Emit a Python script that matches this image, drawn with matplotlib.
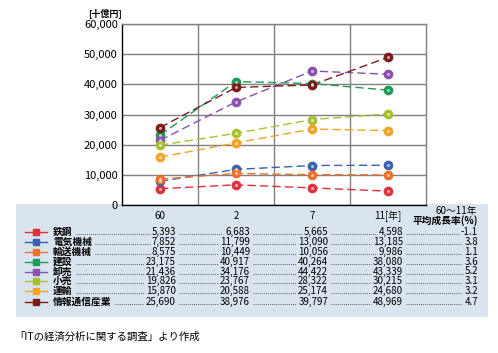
import matplotlib
matplotlib.use("Agg")
import matplotlib.pyplot as plt
from matplotlib.patches import Rectangle
from matplotlib.lines import Line2D

plt.rcParams['font.family'] = ['Noto Sans CJK JP', 'DejaVu Sans']

years = ["60", "2", "7", "11[年]"]
industries = ["鉄鋼", "電気機械", "輸送機械", "建設", "卸売", "小売", "運輸", "情報通信産業"]
steel = [5393, 6683, 5665, 4598]
electric = [7852, 11799, 13090, 13185]
transport_mach = [8575, 10449, 10056, 9986]
construction = [23175, 40917, 40264, 38080]
wholesale = [21436, 34176, 44422, 43339]
retail = [19826, 23767, 28322, 30215]
transport = [15870, 20588, 25174, 24680]
ict = [25690, 38976, 39797, 48969]
growth = ["-1.1", "3.8", "1.1", "3.6", "5.2", "3.1", "3.2", "4.7"]
series = [steel, electric, transport_mach, construction, wholesale, retail, transport, ict]
colors = ["#e0303a", "#3a62b0", "#f07028", "#1f9a5a", "#8a50b0", "#a8c030", "#f4a424", "#7a1c1c"]

W, H = 498, 353
fig = plt.figure(figsize=(W / 100, H / 100), dpi=100)
fig.patch.set_facecolor("white")

def fx(px):
    return px / W

def fy(py):
    return 1 - py / H

# blue panel
fig.patches.append(Rectangle((fx(16), fy(317)), fx(488) - fx(16), fy(204) - fy(317),
                             transform=fig.transFigure, facecolor="#dae4ef", edgecolor="none", zorder=0))

ax = fig.add_axes([fx(122), fy(205), fx(426) - fx(122), fy(24) - fy(205)])
ax.set_facecolor("white")
ax.set_zorder(2)
x = list(range(len(years)))
for vals, c in zip(series, colors):
    ax.plot(x, vals, color=c, lw=1.0, ls=(0, (6, 3)), zorder=3)
    ax.plot(x, vals, ls="none", marker="o", ms=6.2, mfc=c, mec=c, mew=0.8, zorder=4)
    ax.plot(x, vals, ls="none", marker="o", ms=2.2, mfc="white", mec="none", alpha=0.6, zorder=5)
ax.set_xlim(-0.5, 3.5)
ax.set_ylim(0, 60000)
ax.set_yticks(range(0, 60001, 10000))
ax.set_yticklabels([f"{v:,}" for v in range(0, 60001, 10000)], fontsize=8)
ax.set_xticks(x)
ax.set_xticklabels(years, fontsize=7)
ax.set_xticks([0.5, 1.5, 2.5], minor=True)
ax.tick_params(axis="both", which="both", length=0, pad=3)
ax.tick_params(axis="x", pad=4)
ax.grid(axis="y", which="major", color="#808080", lw=1)
ax.grid(axis="x", which="minor", color="#808080", lw=1)
ax.set_axisbelow(True)
for s in ax.spines.values():
    s.set_color("#808080")
    s.set_linewidth(1)
ax.spines["left"].set_color("black")
ax.spines["bottom"].set_color("black")

fig.text(fx(88), fy(14), "[十億円]", fontsize=6.5, va="center", ha="left", weight="bold")

# header of growth column
fig.text(fx(456), fy(211), "60～11年", fontsize=7, ha="center", va="center")
fig.text(fx(478), fy(221), "平均成長率(%)", fontsize=7, ha="right", va="center", weight="bold")

rows_y = [232, 242, 252, 262, 271.5, 281, 291, 302]
col_right = [176, 250, 328, 403, 478]
texts = []
for i, (name, vals, c, g) in enumerate(zip(industries, series, colors, growth)):
    y = fy(rows_y[i])
    fig.add_artist(Line2D([fx(25), fx(47)], [y, y], color=c, lw=1, transform=fig.transFigure))
    fig.add_artist(Line2D([fx(36)], [y], marker="s", ms=5, mfc=c, mec=c, ls="none",
                          transform=fig.transFigure))
    t0 = fig.text(fx(53), y, name, fontsize=7, ha="left", va="center", weight="bold")
    row = [t0]
    for v, cx in zip(vals, col_right[:4]):
        row.append(fig.text(fx(cx), y, f"{v:,}", fontsize=7, ha="right", va="center"))
    row.append(fig.text(fx(col_right[4]), y, g, fontsize=7, ha="right", va="center"))
    texts.append((y, row))

fig.canvas.draw()
r = fig.canvas.get_renderer()
inv = fig.transFigure.inverted()
for y, row in texts:
    for a, b in zip(row[:-1], row[1:]):
        ea = a.get_window_extent(r)
        eb = b.get_window_extent(r)
        x0 = inv.transform((ea.x1 + 3, 0))[0]
        x1 = inv.transform((eb.x0 - 2, 0))[0]
        fig.add_artist(Line2D([x0, x1], [y - 0.006, y - 0.006], color="#333333", lw=0.6,
                              ls=(0, (1, 1.5)), transform=fig.transFigure))

fig.text(fx(14), fy(337), "「ITの経済分析に関する調査」より作成", fontsize=7.5, ha="left", va="center")

fig.savefig("out.png", dpi=100)
